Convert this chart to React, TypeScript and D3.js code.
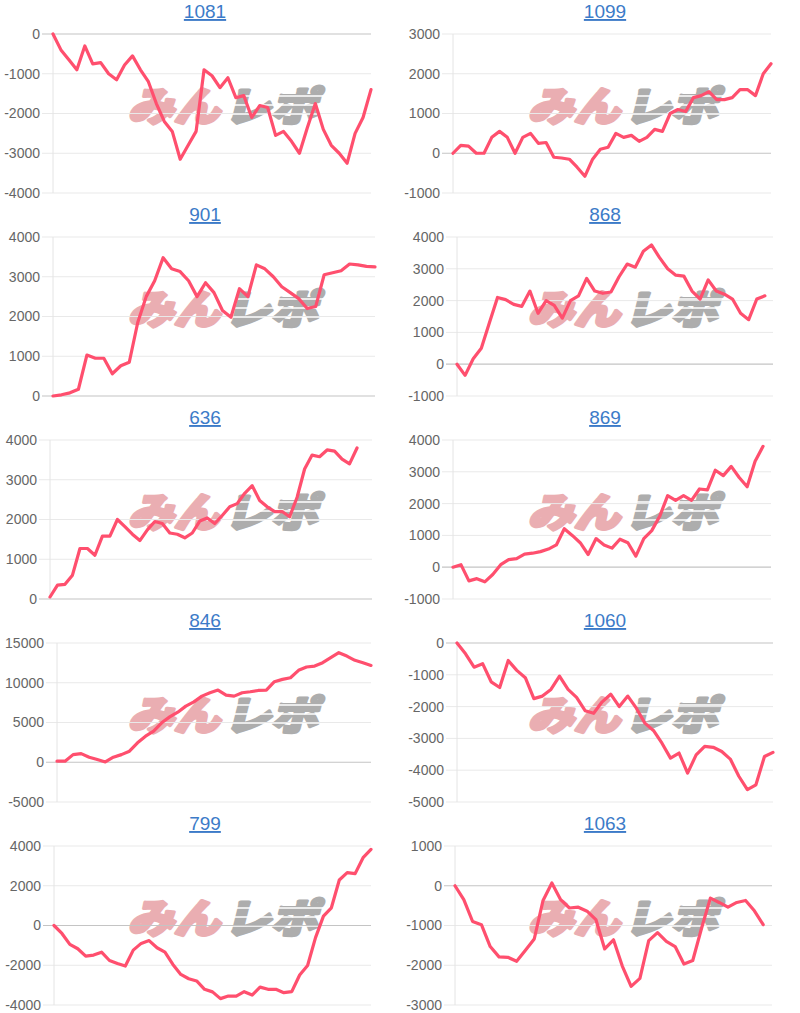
import React from 'react';
import * as d3 from 'd3';

// panel titles (machine numbers)
const titles = ['1081', '1099', '901', '868', '636', '869', '846', '1060', '799', '1063'];

// cumulative result per day
const pnl1081 = [0, -400, -650, -900, -300, -750, -720, -1000, -1150, -780, -550, -900, -1200, -1750, -2200, -2450, -3150, -2800, -2450, -900, -1050, -1350, -1100, -1600, -1550, -2100, -1800, -1850, -2550, -2450, -2700, -3000, -2350, -1750, -2400, -2800, -3000, -3250, -2500, -2100, -1400];
const pnl1099 = [0, 200, 180, 0, 0, 400, 550, 400, 0, 400, 500, 250, 270, -100, -120, -150, -350, -580, -150, 100, 150, 500, 400, 450, 300, 400, 600, 550, 1000, 1100, 1050, 1400, 1450, 1550, 1350, 1350, 1400, 1600, 1600, 1450, 2000, 2250];
const pnl901 = [0, 30, 80, 170, 1030, 950, 950, 560, 760, 850, 1850, 2500, 2900, 3480, 3200, 3130, 2900, 2500, 2850, 2600, 2150, 1980, 2700, 2500, 3300, 3200, 3000, 2750, 2600, 2450, 2200, 2250, 3050, 3100, 3150, 3320, 3300, 3260, 3250];
const pnl868 = [0, -350, 170, 500, 1300, 2100, 2030, 1880, 1820, 2300, 1600, 2000, 1850, 1450, 2000, 2150, 2700, 2300, 2230, 2270, 2750, 3150, 3050, 3550, 3750, 3350, 3000, 2800, 2770, 2300, 2050, 2650, 2300, 2200, 2050, 1600, 1400, 2050, 2150];
const pnl636 = [50, 350, 370, 600, 1270, 1270, 1100, 1580, 1580, 2000, 1820, 1630, 1470, 1740, 1950, 1900, 1660, 1630, 1540, 1660, 1960, 2040, 1900, 2100, 2320, 2400, 2660, 2850, 2480, 2320, 2200, 2200, 2070, 2560, 3270, 3620, 3580, 3750, 3720, 3520, 3400, 3800];
const pnl869 = [0, 80, -430, -360, -460, -230, 80, 240, 270, 410, 440, 490, 570, 700, 1210, 1000, 770, 400, 900, 700, 600, 880, 770, 350, 900, 1150, 1600, 2250, 2100, 2250, 2100, 2460, 2430, 3050, 2880, 3170, 2820, 2530, 3330, 3800];
const pnl846 = [130, 130, 960, 1090, 630, 340, 40, 630, 960, 1390, 2440, 3280, 3910, 4960, 5710, 6300, 7060, 7600, 8320, 8740, 9080, 8450, 8320, 8740, 8870, 9030, 9080, 10130, 10420, 10630, 11560, 11980, 12100, 12520, 13150, 13780, 13360, 12820, 12520, 12180];
const pnl1060 = [0, -340, -760, -650, -1220, -1400, -550, -860, -1090, -1750, -1670, -1460, -1040, -1460, -1710, -2130, -2210, -1850, -1610, -2000, -1670, -2050, -2520, -2750, -3150, -3620, -3460, -4090, -3520, -3250, -3280, -3410, -3650, -4190, -4610, -4460, -3570, -3440];
const pnl799 = [0, -400, -950, -1170, -1540, -1490, -1340, -1760, -1910, -2040, -1240, -900, -760, -1120, -1340, -1960, -2460, -2680, -2790, -3210, -3340, -3680, -3550, -3550, -3330, -3500, -3100, -3210, -3210, -3380, -3330, -2490, -2010, -610, 470, 890, 2290, 2660, 2610, 3410, 3830];
const pnl1063 = [0, -350, -900, -980, -1530, -1790, -1800, -1900, -1620, -1340, -370, 70, -350, -560, -540, -640, -850, -1590, -1360, -2020, -2530, -2330, -1380, -1180, -1400, -1530, -1970, -1880, -1070, -310, -420, -540, -420, -370, -630, -980];

// y tick labels of each panel
const ticks1081 = [0, -1000, -2000, -3000, -4000];
const ticks1099 = [3000, 2000, 1000, 0, -1000];
const ticks901 = [4000, 3000, 2000, 1000, 0];
const ticks868 = [4000, 3000, 2000, 1000, 0, -1000];
const ticks636 = [4000, 3000, 2000, 1000, 0];
const ticks869 = [4000, 3000, 2000, 1000, 0, -1000];
const ticks846 = [15000, 10000, 5000, 0, -5000];
const ticks1060 = [0, -1000, -2000, -3000, -4000, -5000];
const ticks799 = [4000, 2000, 0, -2000, -4000];
const ticks1063 = [1000, 0, -1000, -2000, -3000];

// number of day labels on each x axis (some series stop early)
const dayCounts = [41, 42, 39, 40, 44, 41, 40, 38, 41, 37];

const seriesList = [pnl1081, pnl1099, pnl901, pnl868, pnl636, pnl869, pnl846, pnl1060, pnl799, pnl1063];
const tickList = [ticks1081, ticks1099, ticks901, ticks868, ticks636, ticks869, ticks846, ticks1060, ticks799, ticks1063];

// plot x extent of each panel, the axes were sized to their labels
const plotX = [[53, 371], [453, 771], [53, 375], [457, 773], [50, 372], [453, 771], [57, 371], [457, 773], [54, 371], [455, 772]];

const W = 800;
const H = 1013;
const ROW_H = 203;
const PLOT_TOP = 34;
const PLOT_H = 159;
const LINE = '#ff4f6e';
const FONT = '"Liberation Sans", Arial, sans-serif';
const WM_FONT = '"Noto Sans CJK JP", sans-serif';

const Watermark = ({ x, y }) => (
  <g transform={`translate(${x},${y}) skewX(-14)`} pointerEvents="none">
    <text x={8} y={0} fontFamily={WM_FONT} fontWeight={900} fontSize={40}
      textLength={92} lengthAdjust="spacingAndGlyphs" fill="#eaaeb2" stroke="#eaaeb2"
      strokeWidth={3.2} strokeLinejoin="round">みん</text>
    <text x={104} y={0} fontFamily={WM_FONT} fontWeight={900} fontSize={40}
      textLength={94} lengthAdjust="spacingAndGlyphs" fill="#adadad" stroke="#adadad"
      strokeWidth={3.2} strokeLinejoin="round">レポ</text>
    {[-25, -16, -7].map(dy => (
      <line key={dy} x1={100} x2={204} y1={dy} y2={dy} stroke="#fff" strokeWidth={1.5} />
    ))}
  </g>
);

const Panel = ({ idx }) => {
  const col = idx % 2;
  const row = Math.floor(idx / 2);
  const colX = col * 400;
  const top = row * ROW_H + PLOT_TOP;
  const bottom = top + PLOT_H;
  const [left, right] = plotX[idx];
  const values = seriesList[idx];
  const ticks = tickList[idx];

  const x = d3.scaleLinear().domain([0, dayCounts[idx] - 1]).range([left, right]);
  const y = d3.scaleLinear().domain(d3.extent(ticks)).range([bottom, top]);
  const line = d3.line().x((d, i) => x(i)).y(d => y(d));

  return (
    <g>
      <text x={colX + 205} y={top - 16} textAnchor="middle" fontFamily={FONT} fontSize={19}
        fill="#3c7bc8" style={{ textDecoration: 'underline' }}>{titles[idx]}</text>
      <Watermark x={colX + 120} y={top + 87} />
      {ticks.map(t => (
        <g key={t}>
          <line x1={left - 11} x2={right} y1={y(t)} y2={y(t)}
            stroke={t === 0 ? '#c4c4c4' : '#e9e9e9'} strokeWidth={t === 0 ? 1.2 : 1} />
          <text x={left - 13} y={y(t)} dy="0.35em" textAnchor="end" fontFamily={FONT}
            fontSize={14} fill="#666">{t}</text>
        </g>
      ))}
      <line x1={left} x2={left} y1={top} y2={bottom} stroke="#e4e4e4" />
      <path d={line(values)} fill="none" stroke={LINE} strokeWidth={3.2} strokeLinejoin="round" strokeLinecap="round" />
    </g>
  );
};

export default function App() {
  return (
    <div style={{ position: 'absolute', left: 0, top: 0, width: W, height: H, background: '#fff' }}>
      <svg width={W} height={H}>
        {titles.map((t, i) => <Panel key={t} idx={i} />)}
      </svg>
    </div>
  );
}
